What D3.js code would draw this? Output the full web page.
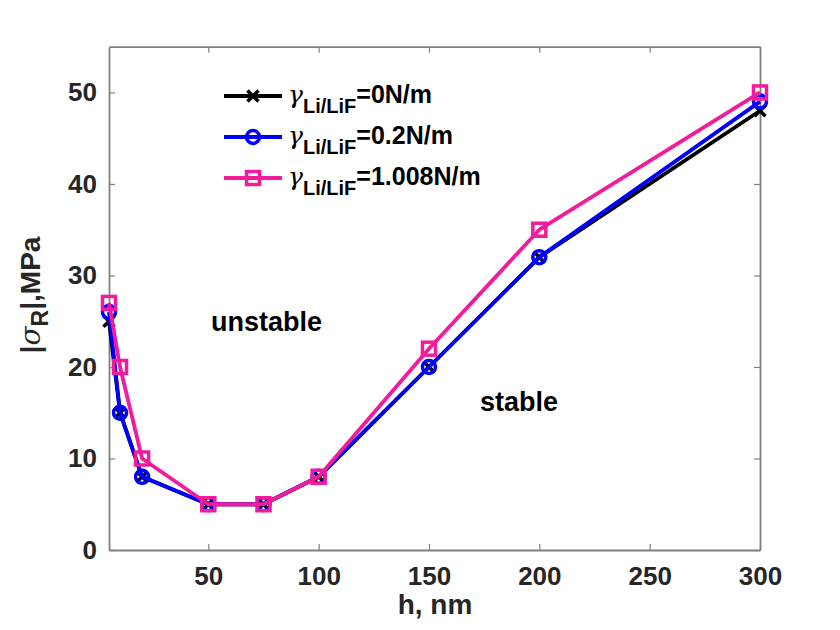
<!DOCTYPE html>
<html>
<head>
<meta charset="utf-8">
<script src="https://cdn.jsdelivr.net/npm/d3@7"></script>
<style>
  body { margin: 0; background: #fff; }
  text { font-family: "Liberation Sans", Arial, sans-serif; font-weight: bold; }
</style>
</head>
<body>
<div id="chart"></div>
<script>
// thickness h (nm)
var hValues = [5, 10, 20, 50, 75, 100, 150, 200, 300];

// |sigma_R| (MPa) for each surface energy
var sigma0 = [25, 15, 8, 5, 5, 8, 20, 32, 48];
var sigma02 = [26, 15, 8, 5, 5, 8, 20, 32, 49];
var sigma1008 = [27, 20, 10, 5, 5, 8, 22, 35, 50];

var seriesNames = ["=0N/m", "=0.2N/m", "=1.008N/m"];
var xTicks = [50, 100, 150, 200, 250, 300];
var yTicks = [0, 10, 20, 30, 40, 50];

var svgWidth = 840;
var svgHeight = 630;

var margin = { top: 46.7, right: 80, bottom: 80, left: 109 };
var width = svgWidth - margin.left - margin.right;
var height = svgHeight - margin.top - margin.bottom;

var svg = d3.select("#chart").append("svg")
  .attr("width", svgWidth)
  .attr("height", svgHeight);

var chartGroup = svg.append("g")
  .attr("transform", `translate(${margin.left}, ${margin.top})`);

var xScale = d3.scaleLinear().domain([5, 300]).range([0, width]);
var yScale = d3.scaleLinear().domain([0, 55]).range([height, 0]);

var axisColor = "#808080";
var tickLen = 6;

function styleAxis(g, fontSize) {
  g.select(".domain").attr("stroke", axisColor).attr("stroke-width", 1.8);
  g.selectAll(".tick line").attr("stroke", axisColor).attr("stroke-width", 1.2);
  g.selectAll(".tick text")
    .attr("fill", "#262626")
    .style("font-size", fontSize + "px");
}

// bottom / left axes with inward ticks
chartGroup.append("g")
  .attr("transform", `translate(0, ${height})`)
  .call(d3.axisBottom(xScale).tickValues(xTicks).tickSizeInner(-tickLen).tickSizeOuter(0).tickPadding(17))
  .call(g => styleAxis(g, 26));

chartGroup.append("g")
  .call(d3.axisLeft(yScale).tickValues(yTicks).tickSizeInner(-tickLen).tickSizeOuter(0).tickPadding(12))
  .call(g => styleAxis(g, 26));

// top / right box axes, no labels
chartGroup.append("g")
  .call(d3.axisTop(xScale).tickValues(xTicks).tickSizeInner(-tickLen).tickSizeOuter(0).tickFormat(""))
  .call(g => styleAxis(g, 26));

chartGroup.append("g")
  .attr("transform", `translate(${width}, 0)`)
  .call(d3.axisRight(yScale).tickValues(yTicks).tickSizeInner(-tickLen).tickSizeOuter(0).tickFormat(""))
  .call(g => styleAxis(g, 26));

// series
var series = [
  { values: sigma0, color: "#000000", marker: "x" },
  { values: sigma02, color: "#0000ff", marker: "o" },
  { values: sigma1008, color: "#f21b9b", marker: "s" }
];

var line = d3.line()
  .x(d => xScale(d.h))
  .y(d => yScale(d.v));

function drawMarker(g, type, color) {
  if (type === "x") {
    g.append("path").attr("d", "M-5.5,-5.5L5.5,5.5M-5.5,5.5L5.5,-5.5")
      .attr("stroke", color).attr("stroke-width", 3.5).attr("fill", "none");
  } else if (type === "o") {
    g.append("circle").attr("r", 6.5)
      .attr("stroke", color).attr("stroke-width", 3.5).attr("fill", "none");
  } else {
    g.append("rect").attr("x", -6.5).attr("y", -6.5).attr("width", 13).attr("height", 13)
      .attr("stroke", color).attr("stroke-width", 3.5).attr("fill", "none");
  }
}

series.forEach(function(s) {
  var pts = hValues.map((h, i) => ({ h: h, v: s.values[i] }));
  chartGroup.append("path")
    .datum(pts)
    .attr("d", line)
    .attr("fill", "none")
    .attr("stroke", s.color)
    .attr("stroke-width", 3.8)
    .attr("stroke-linejoin", "round");

  chartGroup.selectAll(null)
    .data(pts)
    .enter()
    .append("g")
    .attr("transform", d => `translate(${xScale(d.h)}, ${yScale(d.v)})`)
    .each(function() { drawMarker(d3.select(this), s.marker, s.color); });
});

// annotations
chartGroup.append("text")
  .attr("x", 211 - margin.left)
  .attr("y", 331 - margin.top)
  .style("font-size", "27px")
  .attr("fill", "#000")
  .text("unstable");

chartGroup.append("text")
  .attr("x", 480 - margin.left)
  .attr("y", 411 - margin.top)
  .style("font-size", "27px")
  .attr("fill", "#000")
  .text("stable");

// legend
var legend = svg.append("g").attr("transform", "translate(224, 96)");

series.forEach(function(s, i) {
  var row = legend.append("g").attr("transform", `translate(0, ${i * 41})`);
  row.append("line")
    .attr("x1", 0).attr("x2", 58)
    .attr("stroke", s.color).attr("stroke-width", 3.8);
  drawMarker(row.append("g").attr("transform", "translate(29, 0)"), s.marker, s.color);

  var t = row.append("text")
    .attr("x", 64)
    .attr("y", 7)
    .attr("fill", "#000");
  t.append("tspan")
    .style("font-family", "'DejaVu Serif', 'Liberation Serif', serif")
    .style("font-style", "italic")
    .style("font-weight", "normal")
    .style("font-size", "25px")
    .text("γ");
  t.append("tspan")
    .attr("dy", 10)
    .style("font-size", "20px")
    .text("Li/LiF");
  t.append("tspan")
    .attr("dy", -10)
    .style("font-size", "25px")
    .text(seriesNames[i]);
});

// axis labels
svg.append("text")
  .attr("x", 435)
  .attr("y", 614)
  .attr("text-anchor", "middle")
  .style("font-size", "28px")
  .attr("fill", "#262626")
  .text("h, nm");

var yLabel = svg.append("text")
  .attr("transform", "translate(40, 295) rotate(-90)")
  .attr("text-anchor", "middle")
  .style("font-size", "28px")
  .attr("fill", "#262626");
yLabel.append("tspan").text("|");
yLabel.append("tspan")
  .style("font-family", "'DejaVu Serif', 'Liberation Serif', serif")
  .style("font-style", "italic")
  .style("font-weight", "normal")
  .text("σ");
yLabel.append("tspan").attr("dy", 8).style("font-size", "23px").text("R");
yLabel.append("tspan").attr("dy", -8).text("|,MPa");
</script>
</body>
</html>
